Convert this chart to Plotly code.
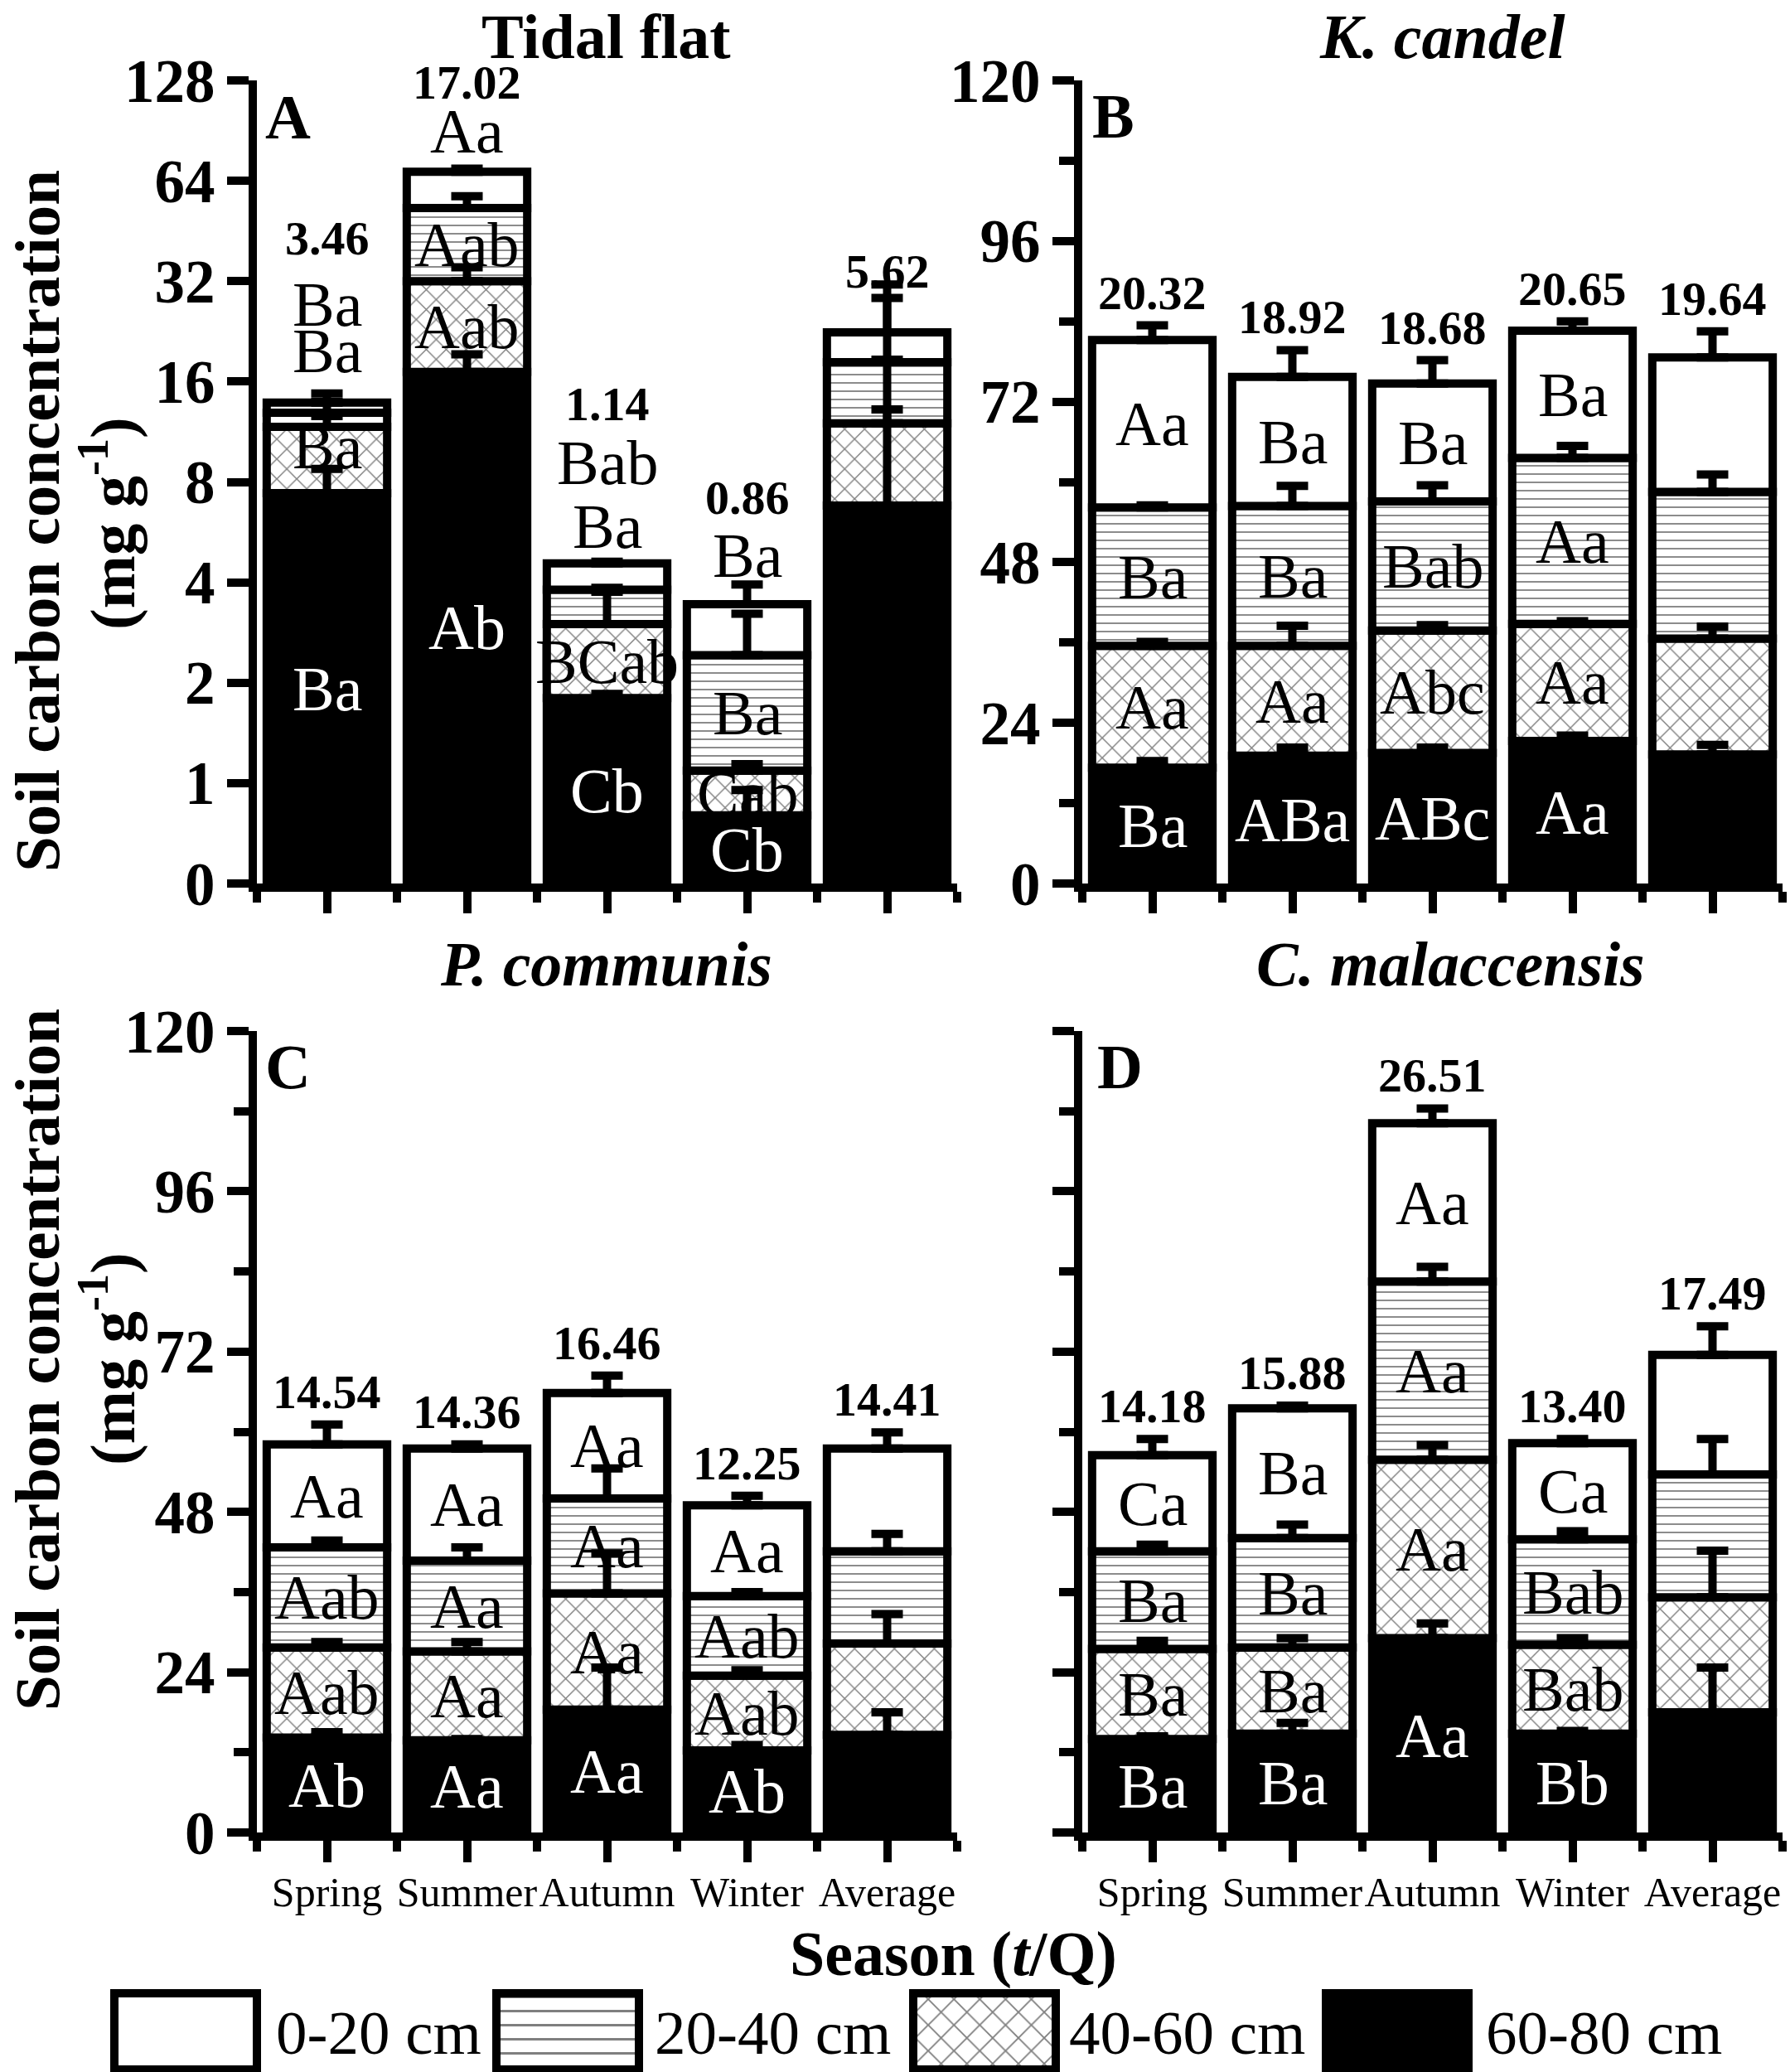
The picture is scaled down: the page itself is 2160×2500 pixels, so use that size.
import numpy as np
import plotly.graph_objects as go

FONT = "Liberation Serif"

seasons = ["Spring", "Summer", "Autumn", "Winter", "Average"]
layers = ["60-80 cm", "40-60 cm", "20-40 cm", "0-20 cm"]          # bottom -> top
legend_order = ["0-20 cm", "20-40 cm", "40-60 cm", "60-80 cm"]

# segment values (mg g-1) per season, layers bottom->top [60-80, 40-60, 20-40, 0-20]
tidal_vals = [[7.4, 4.3, 1.2, 0.94],
              [17.1, 14.9, 21.0, 15.08],
              [1.8, 1.2, 0.8, 0.76],
              [0.68, 0.41, 1.33, 1.02],
              [6.8, 5.2, 6.3, 4.18]]
tidal_err = [[1.35, 0.9, 1.0, 0.9],
             [2.2, 3.2, 4.5, 1.5],
             [0.05, 0.75, 0.05, 0.05],
             [0.25, 0.05, 0.8, 0.5],
             [6.4, 6.6, 10.2, 8.8]]
kandel_vals = [[17.3, 18.2, 20.7, 25.0],
               [19.1, 16.4, 20.9, 19.3],
               [19.5, 18.3, 19.3, 17.6],
               [21.3, 17.5, 24.8, 19.0],
               [19.3, 17.3, 21.9, 20.1]]
kandel_err = [[1.0, 0.6, 0.3, 2.2],
              [1.2, 3.0, 3.0, 4.0],
              [0.8, 0.8, 2.4, 3.5],
              [0.8, 0.4, 1.8, 1.4],
              [1.4, 1.8, 2.6, 3.9]]
pcomm_vals = [[14.2, 13.5, 15.0, 15.4],
              [13.8, 13.3, 13.6, 16.8],
              [18.4, 17.4, 14.2, 15.8],
              [12.3, 11.2, 11.9, 13.6],
              [14.6, 13.7, 13.8, 15.4]]
pcomm_err = [[0.8, 0.8, 1.0, 3.0],
             [0.2, 1.4, 2.0, 0.6],
             [6.3, 6.0, 4.5, 2.6],
             [0.8, 0.8, 0.6, 1.4],
             [3.4, 4.4, 2.6, 2.4]]
cmal_vals = [[14.0, 13.5, 14.6, 14.4],
             [14.8, 12.9, 16.4, 19.4],
             [29.1, 26.7, 26.7, 23.7],
             [14.8, 13.3, 15.8, 14.4],
             [18.0, 17.2, 18.4, 17.9]]
cmal_err = [[0.4, 1.2, 1.0, 2.4],
            [1.6, 1.4, 2.0, 0.4],
            [2.2, 2.2, 2.2, 2.2],
            [0.4, 1.0, 1.2, 0.6],
            [6.7, 7.0, 5.3, 4.3]]

# mean values written above bars
tidal_means = ["3.46", "17.02", "1.14", "0.86", "5.62"]
kandel_means = ["20.32", "18.92", "18.68", "20.65", "19.64"]
pcomm_means = ["14.54", "14.36", "16.46", "12.25", "14.41"]
cmal_means = ["14.18", "15.88", "26.51", "13.40", "17.49"]

# significance letters per season, layers bottom->top
tidal_letters = [["Ba", "Ba", "Ba", "Ba"], ["Ab", "Aab", "Aab", "Aa"],
                 ["Cb", "BCab", "Ba", "Bab"], ["Cb", "Cab", "Ba", "Ba"], ["", "", "", ""]]
kandel_letters = [["Ba", "Aa", "Ba", "Aa"], ["ABa", "Aa", "Ba", "Ba"],
                  ["ABc", "Abc", "Bab", "Ba"], ["Aa", "Aa", "Aa", "Ba"], ["", "", "", ""]]
pcomm_letters = [["Ab", "Aab", "Aab", "Aa"], ["Aa", "Aa", "Aa", "Aa"],
                 ["Aa", "Aa", "Aa", "Aa"], ["Ab", "Aab", "Aab", "Aa"], ["", "", "", ""]]
cmal_letters = [["Ba", "Ba", "Ba", "Ca"], ["Ba", "Ba", "Ba", "Ba"],
                ["Aa", "Aa", "Aa", "Aa"], ["Bb", "Bab", "Bab", "Ca"], ["", "", "", ""]]

# panel A uses a 0,1,2,4,...,128 axis
tidal_ticks = [0, 1, 2, 4, 8, 16, 32, 64, 128]
# label positions (axis units) for letters placed above thin segments in panel A
tidal_letter_pos = [[None, 4.35, 5.31, 5.77], [None, None, None, 7.50],
                    [None, None, 3.56, 4.19], [None, None, None, 3.27], [None] * 4]
tidal_mean_pos = [6.43, 7.98, 4.78, 3.84, 6.10]


def pos_tidal(v):
    v = np.asarray(v, dtype=float)
    return np.where(v <= 1, v, 1 + np.log2(np.maximum(v, 1e-9)))


def ident(v):
    return np.asarray(v, dtype=float)


W, H = 2160, 2500
LW = 10


def px_x(p):
    return p / W


def px_y(p):
    return 1 - p / H


def make_styles(xsize, hsize):
    return [
        dict(color="black", line=dict(color="black", width=LW)),
        dict(color="white", line=dict(color="black", width=LW),
             pattern=dict(shape="x", fgcolor="black", bgcolor="white", size=xsize,
                          solidity=0.16)),
        dict(color="white", line=dict(color="black", width=LW),
             pattern=dict(shape="-", fgcolor="black", bgcolor="white", size=hsize,
                          solidity=0.18)),
        dict(color="white", line=dict(color="black", width=LW)),
    ]


layer_style = make_styles(17, 10)
legend_style = make_styles(22, 17)

fig = go.Figure()
annotations = []

panels = [
    dict(vals=tidal_vals, err=tidal_err, means=tidal_means, letters=tidal_letters,
         f=pos_tidal, xa="x", ya="y", lpos=tidal_letter_pos, mpos=tidal_mean_pos),
    dict(vals=kandel_vals, err=kandel_err, means=kandel_means, letters=kandel_letters,
         f=ident, xa="x2", ya="y2", lpos=None, mpos=None),
    dict(vals=pcomm_vals, err=pcomm_err, means=pcomm_means, letters=pcomm_letters,
         f=ident, xa="x3", ya="y3", lpos=None, mpos=None),
    dict(vals=cmal_vals, err=cmal_err, means=cmal_means, letters=cmal_letters,
         f=ident, xa="x4", ya="y4", lpos=None, mpos=None),
]

xidx = np.arange(len(seasons))
for p in panels:
    vals = np.array(p["vals"], dtype=float)
    err = np.array(p["err"], dtype=float)
    cum = np.cumsum(vals, axis=1)
    prev = cum - vals
    f = p["f"]
    top = f(cum)
    base = f(prev)
    for j in range(len(layers)):
        fig.add_trace(go.Bar(x=xidx, y=top[:, j] - base[:, j], base=base[:, j],
                             width=0.86, marker=layer_style[j], name=layers[j],
                             showlegend=False, xaxis=p["xa"], yaxis=p["ya"]))
    for j in range(len(layers)):
        etop = f(cum[:, j] + err[:, j]) - top[:, j]
        fig.add_trace(go.Scatter(x=xidx, y=top[:, j], mode="markers",
                                 marker=dict(size=1, color="rgba(0,0,0,0)"),
                                 error_y=dict(type="data", symmetric=False, array=etop,
                                              arrayminus=np.zeros(len(xidx)),
                                              thickness=LW, width=19, color="black"),
                                 showlegend=False, hoverinfo="skip",
                                 xaxis=p["xa"], yaxis=p["ya"]))
    # letters
    for i in range(len(seasons)):
        for j in range(len(layers)):
            txt = p["letters"][i][j]
            if not txt:
                continue
            yv = (top[i, j] + base[i, j]) / 2
            inside = True
            if p["lpos"] is not None and p["lpos"][i][j] is not None:
                yv = p["lpos"][i][j]
                inside = False
            col = "white" if (j == 0 and inside) else "black"
            annotations.append(dict(x=xidx[i], y=yv, xref=p["xa"], yref=p["ya"], text=txt,
                                    showarrow=False, xanchor="center", yanchor="middle",
                                    font=dict(family=FONT, size=76, color=col)))
    # means
    for i in range(len(seasons)):
        if p["mpos"] is not None:
            annotations.append(dict(x=xidx[i], y=p["mpos"][i], xref=p["xa"], yref=p["ya"],
                                    text="<b>%s</b>" % p["means"][i], showarrow=False,
                                    xanchor="center", yanchor="middle",
                                    font=dict(family=FONT, size=58, color="black")))
        else:
            yt = f(cum[i, -1] + err[i, -1])
            annotations.append(dict(x=xidx[i], y=float(yt), xref=p["xa"], yref=p["ya"],
                                    text="<b>%s</b>" % p["means"][i], showarrow=False,
                                    xanchor="center", yanchor="bottom", yshift=5,
                                    font=dict(family=FONT, size=58, color="black")))

# legend swatches drawn in their own small axis
leg_centers = [224, 685, 1188, 1686]
leg_text_x = [331, 788, 1288, 1791]
for k, name in enumerate(legend_order):
    j = layers.index(name)
    fig.add_trace(go.Bar(x=[leg_centers[k]], y=[1], base=[0], width=172,
                         marker=legend_style[j], showlegend=False, hoverinfo="skip",
                         xaxis="x5", yaxis="y5"))
    annotations.append(dict(x=px_x(leg_text_x[k]), y=px_y(2452), xref="paper", yref="paper",
                            text=name, showarrow=False, xanchor="left", yanchor="middle",
                            font=dict(family=FONT, size=75, color="black")))

# titles
titles = [("<b>Tidal flat</b>", 731, 0, "top"), ("<b><i>K. candel</i></b>", 1740, 0, "top"),
          ("<b><i>P. communis</i></b>", 731, 1163, "middle"),
          ("<b><i>C. malaccensis</i></b>", 1750, 1163, "middle")]
for t, x, y, ya in titles:
    annotations.append(dict(x=px_x(x), y=px_y(y), xref="paper", yref="paper", text=t,
                            showarrow=False, xanchor="center", yanchor=ya,
                            font=dict(family=FONT, size=76, color="black")))
for t, x, y in [("A", 347, 141), ("B", 1343, 140), ("C", 347, 1287), ("D", 1351, 1287)]:
    annotations.append(dict(x=px_x(x), y=px_y(y), xref="paper", yref="paper",
                            text="<b>%s</b>" % t, showarrow=False, xanchor="center",
                            yanchor="middle", font=dict(family=FONT, size=76, color="black")))
# y titles
for yc in [(629, 632), (1641, 1640)]:
    annotations.append(dict(x=0, y=px_y(yc[0]), xref="paper", yref="paper",
                            text="<b>Soil carbon concentration</b>", textangle=-90,
                            showarrow=False, xanchor="left", yanchor="middle",
                            font=dict(family=FONT, size=77, color="black")))
    annotations.append(dict(x=px_x(130), y=px_y(yc[1]), xref="paper", yref="paper",
                            text="<b>(mg g<sup>-1</sup>)</b>", textangle=-90,
                            showarrow=False, xanchor="center", yanchor="middle",
                            font=dict(family=FONT, size=77, color="black")))
annotations.append(dict(x=px_x(1150), y=px_y(2357), xref="paper", yref="paper",
                        text="<b>Season (<i>t</i>/Q)</b>", showarrow=False,
                        xanchor="center", yanchor="middle",
                        font=dict(family=FONT, size=76, color="black")))

xl_dom = [px_x(310), px_x(1155)]
xr_dom = [px_x(1306), px_x(2151)]
yt_dom = [px_y(1066), px_y(97)]
yb_dom = [px_y(2211), px_y(1244)]

tick_font_b = dict(family=FONT, size=73, color="black", weight="bold")
xcommon = dict(range=[-0.5, 4.5], showline=True, linewidth=LW, linecolor="black",
               ticks="outside", ticklen=26, tickwidth=LW, tickcolor="black",
               tickvals=list(xidx), ticktext=seasons, showgrid=False, zeroline=False,
               tickfont=dict(family=FONT, size=50, color="black"), automargin=False,
               ticklabelstandoff=-7,
               minor=dict(tickvals=[-0.5, 0.5, 1.5, 2.5, 3.5, 4.5], ticks="outside",
                          ticklen=13, tickwidth=LW, tickcolor="black"),
               fixedrange=True)
ycommon = dict(showline=True, linewidth=LW, linecolor="black", ticks="outside",
               ticklen=26, tickwidth=LW, tickcolor="black", showgrid=False,
               zeroline=False, tickfont=tick_font_b, fixedrange=True, automargin=False)
ylin = dict(ycommon, range=[0, 120], tickvals=[0, 24, 48, 72, 96, 120],
            minor=dict(tickvals=[12, 36, 60, 84, 108], ticks="outside", ticklen=18,
                       tickwidth=LW, tickcolor="black"))

fig.update_layout(
    width=W, height=H, autosize=False,
    margin=dict(l=0, r=0, t=0, b=0, pad=0, autoexpand=False),
    paper_bgcolor="white", plot_bgcolor="white", barmode="overlay",
    font=dict(family=FONT, color="black"),
    showlegend=False,
    xaxis=dict(xcommon, domain=xl_dom, anchor="y", showticklabels=False),
    yaxis=dict(ycommon, domain=yt_dom, anchor="x", range=[0, 8],
               tickvals=list(pos_tidal(tidal_ticks)), ticktext=[str(t) for t in tidal_ticks]),
    xaxis2=dict(xcommon, domain=xr_dom, anchor="y2", showticklabels=False),
    yaxis2=dict(ylin, domain=yt_dom, anchor="x2"),
    xaxis3=dict(xcommon, domain=xl_dom, anchor="y3"),
    yaxis3=dict(ylin, domain=yb_dom, anchor="x3"),
    xaxis4=dict(xcommon, domain=xr_dom, anchor="y4"),
    yaxis4=dict(ylin, domain=yb_dom, anchor="x4", showticklabels=False),
    xaxis5=dict(domain=[0, 1], range=[0, W], visible=False, anchor="y5", fixedrange=True,
                automargin=False),
    yaxis5=dict(domain=[0, 0.06], range=[-3 / 92, 1 + 55 / 92], visible=False,
                anchor="x5", fixedrange=True, automargin=False),
    annotations=annotations,
)

fig.write_html("out.html", config={"staticPlot": True},
               post_script="document.body.style.margin='0';")
